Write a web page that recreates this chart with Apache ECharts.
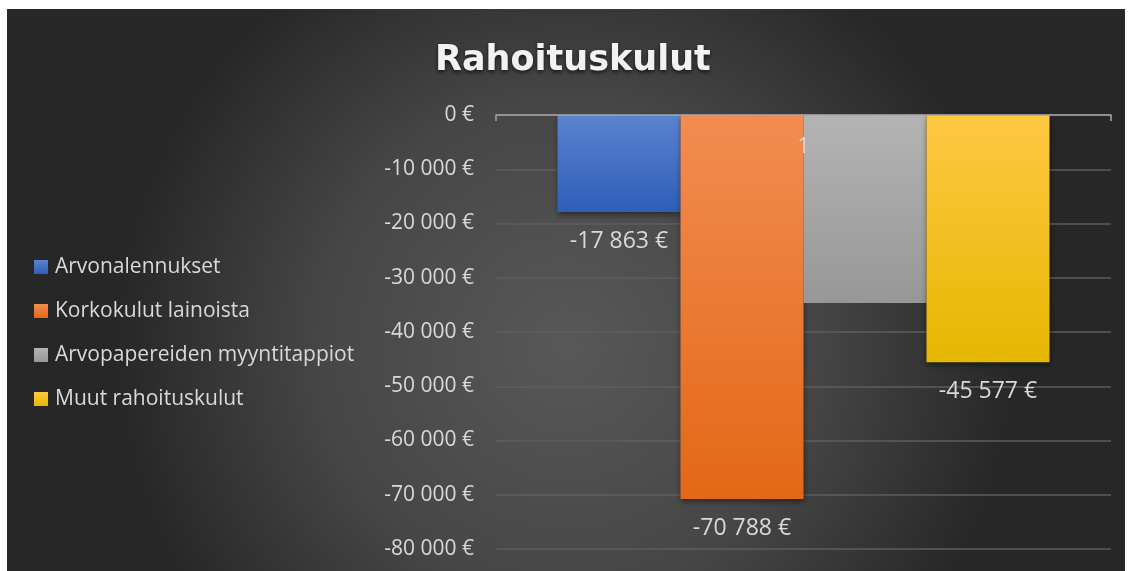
<!DOCTYPE html>
<html>
<head>
<meta charset="utf-8">
<script src="https://cdn.jsdelivr.net/npm/echarts@6/dist/echarts.min.js"></script>
<style>
  html, body { margin: 0; padding: 0; background: #fff; }
  #chart { position: absolute; left: 7px; top: 9px; width: 1118px; height: 562px; }
</style>
</head>
<body>
<div id="chart"></div>
<script>
const categories = ["1"];
const seriesNames = ["Arvonalennukset", "Korkokulut lainoista", "Arvopapereiden myyntitappiot", "Muut rahoituskulut"];
const seriesValues = [-17863, -70788, -34650, -45577];
const showLabel = [true, true, false, true];
const yTicks = { min: -80000, max: 0, interval: 10000 };

const colors = [
  ["#5b83d0", "#2e5eb8"],
  ["#f38c52", "#e26816"],
  ["#b4b4b4", "#979797"],
  ["#ffc843", "#e5b700"]
];

const fmt = (v) => {
  const s = Math.abs(Math.round(v)).toString().replace(/\B(?=(\d{3})+(?!\d))/g, " ");
  return (v < 0 ? "-" : "") + s + " €";
};

const chart = echarts.init(document.getElementById("chart"));
const font = "'Open Sans', sans-serif";

const option = {
  backgroundColor: {
    type: "radial", x: 0.5, y: 0.6, r: 0.8,
    colorStops: [
      { offset: 0, color: "#585858" },
      { offset: 0.55, color: "#464646" },
      { offset: 1, color: "#272727" }
    ]
  },
  title: {
    text: "Rahoituskulut",
    left: 423,
    top: 29,
    textStyle: {
      color: "#f2f2f2",
      fontSize: 35,
      fontWeight: "bold",
      fontFamily: "'DejaVu Sans', sans-serif",
      textShadowColor: "rgba(0,0,0,0.7)",
      textShadowBlur: 4,
      textShadowOffsetY: 2
    }
  },
  legend: {
    orient: "vertical",
    left: 22,
    top: 242,
    itemWidth: 14,
    itemHeight: 14,
    itemGap: 22,
    icon: "rect",
    textStyle: { color: "#d9d9d9", fontSize: 21, fontFamily: font, lineHeight: 22, padding: [0, 0, 0, 2] },
    data: seriesNames
  },
  grid: { left: 489, right: 14, top: 106, bottom: 22, containLabel: false },
  xAxis: {
    type: "category",
    data: categories,
    position: "top",
    z: 3,
    axisLine: { show: true, onZero: false, lineStyle: { color: "#a6a6a6", width: 1.5 } },
    axisTick: { show: true, inside: true, length: 6, lineStyle: { color: "#a6a6a6", width: 1.5 } },
    axisLabel: { inside: true, margin: 22, color: "#d9d9d9", fontSize: 21, fontFamily: font }
  },
  yAxis: {
    type: "value",
    min: yTicks.min,
    max: yTicks.max,
    interval: yTicks.interval,
    axisLine: { show: false },
    axisTick: { show: false },
    splitLine: { lineStyle: { color: "#5e5e5e", width: 1.5 } },
    axisLabel: { color: "#d9d9d9", fontSize: 21, fontFamily: font, margin: 22, formatter: fmt }
  },
  series: seriesNames.map((name, i) => ({
    name: name,
    type: "bar",
    data: [seriesValues[i]],
    barGap: "0%",
    barCategoryGap: "20%",
    itemStyle: {
      color: {
        type: "linear", x: 0, y: 0, x2: 0, y2: 1,
        colorStops: [
          { offset: 0, color: colors[i][0] },
          { offset: 1, color: colors[i][1] }
        ]
      },
      shadowColor: "rgba(0,0,0,0.45)",
      shadowBlur: 6,
      shadowOffsetY: 3
    },
    label: {
      show: showLabel[i],
      position: "bottom",
      distance: 18,
      color: "#d9d9d9",
      fontSize: 23,
      fontFamily: font,
      formatter: (p) => fmt(p.value)
    }
  }))
};
chart.setOption(option);
</script>
</body>
</html>
